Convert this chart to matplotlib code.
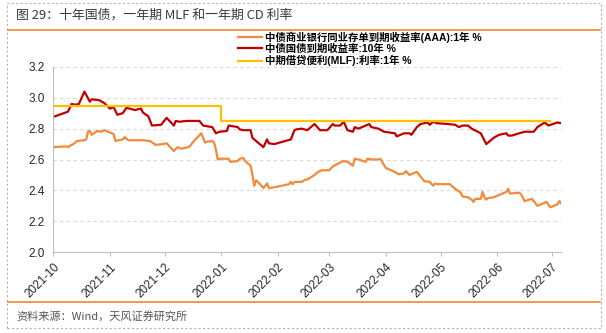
import matplotlib.pyplot as plt
import matplotlib.dates as mdates
import numpy as np
import pandas as pd
from matplotlib.lines import Line2D
from matplotlib.patches import Rectangle

plt.rcParams['font.family'] = ['Liberation Sans', 'Noto Sans CJK SC', 'DejaVu Sans']

# 中债国债到期收益率:10年
gov_dates = ["2021-10-01", "2021-10-09", "2021-10-11", "2021-10-13", "2021-10-15", "2021-10-18",
             "2021-10-21", "2021-10-22", "2021-10-26", "2021-10-29", "2021-11-01", "2021-11-03",
             "2021-11-05", "2021-11-08", "2021-11-10", "2021-11-15", "2021-11-16", "2021-11-18",
             "2021-11-19", "2021-11-22", "2021-11-24", "2021-11-29", "2021-12-02", "2021-12-06",
             "2021-12-07", "2021-12-09", "2021-12-13", "2021-12-15", "2021-12-20", "2021-12-22",
             "2021-12-27", "2021-12-29", "2021-12-31", "2022-01-04", "2022-01-05", "2022-01-10",
             "2022-01-11", "2022-01-13", "2022-01-17", "2022-01-18", "2022-01-21", "2022-01-24",
             "2022-01-26", "2022-01-27", "2022-01-30", "2022-02-08", "2022-02-10", "2022-02-11",
             "2022-02-14", "2022-02-17", "2022-02-21", "2022-02-24", "2022-02-28", "2022-03-03",
             "2022-03-04", "2022-03-07", "2022-03-09", "2022-03-11", "2022-03-14", "2022-03-15",
             "2022-03-17", "2022-03-23", "2022-03-24", "2022-03-28", "2022-03-31", "2022-04-06",
             "2022-04-07", "2022-04-11", "2022-04-14", "2022-04-15", "2022-04-18", "2022-04-20",
             "2022-04-22", "2022-04-24", "2022-04-25", "2022-04-27", "2022-04-29", "2022-05-05",
             "2022-05-09", "2022-05-11", "2022-05-13", "2022-05-16", "2022-05-18", "2022-05-23",
             "2022-05-26", "2022-05-27", "2022-05-30", "2022-06-02", "2022-06-06", "2022-06-07",
             "2022-06-09", "2022-06-13", "2022-06-16", "2022-06-20", "2022-06-21", "2022-06-23",
             "2022-06-27", "2022-06-29", "2022-07-04", "2022-07-06"]
gov_10y = [2.876, 2.91, 2.96, 2.955, 2.96, 3.04,
           2.975, 2.99, 2.985, 2.965, 2.93, 2.94,
           2.89, 2.90, 2.935, 2.92, 2.925, 2.93,
           2.905, 2.88, 2.82, 2.825, 2.87, 2.82,
           2.85, 2.845, 2.85, 2.85, 2.85, 2.82,
           2.81, 2.77, 2.78, 2.785, 2.82, 2.81,
           2.795, 2.79, 2.79, 2.74, 2.71, 2.68,
           2.73, 2.705, 2.70, 2.73, 2.79, 2.795,
           2.80, 2.79, 2.83, 2.79, 2.79, 2.83,
           2.82, 2.82, 2.845, 2.79, 2.78, 2.81,
           2.80, 2.83, 2.81, 2.80, 2.78, 2.77,
           2.75, 2.77, 2.77, 2.76, 2.81, 2.83,
           2.835, 2.84, 2.825, 2.845, 2.835, 2.83,
           2.825, 2.81, 2.82, 2.82, 2.80, 2.77,
           2.70, 2.71, 2.74, 2.76, 2.77, 2.755,
           2.755, 2.77, 2.78, 2.78, 2.78, 2.81,
           2.84, 2.82, 2.84, 2.835]

# 中债商业银行同业存单到期收益率(AAA):1年
cd_dates = ["2021-10-01", "2021-10-08", "2021-10-09", "2021-10-11", "2021-10-12", "2021-10-14",
            "2021-10-18", "2021-10-19", "2021-10-20", "2021-10-21", "2021-10-22", "2021-10-25",
            "2021-10-27", "2021-10-29", "2021-11-03", "2021-11-04", "2021-11-08", "2021-11-09",
            "2021-11-11", "2021-11-15", "2021-11-19", "2021-11-23", "2021-11-26", "2021-11-30",
            "2021-12-02", "2021-12-06", "2021-12-08", "2021-12-10", "2021-12-14", "2021-12-15",
            "2021-12-17", "2021-12-21", "2021-12-23", "2021-12-24", "2021-12-27", "2021-12-28",
            "2021-12-29", "2021-12-30", "2021-12-31", "2022-01-04", "2022-01-05", "2022-01-06",
            "2022-01-10", "2022-01-11", "2022-01-13", "2022-01-14", "2022-01-17", "2022-01-18",
            "2022-01-19", "2022-01-20", "2022-01-21", "2022-01-24", "2022-01-26", "2022-01-27",
            "2022-01-30", "2022-02-07", "2022-02-08", "2022-02-09", "2022-02-10", "2022-02-11",
            "2022-02-14", "2022-02-16", "2022-02-17", "2022-02-21", "2022-02-23", "2022-02-25",
            "2022-03-01", "2022-03-03", "2022-03-07", "2022-03-09", "2022-03-11", "2022-03-14",
            "2022-03-15", "2022-03-17", "2022-03-21", "2022-03-22", "2022-03-24", "2022-03-28",
            "2022-03-29", "2022-04-01", "2022-04-05", "2022-04-08", "2022-04-11", "2022-04-12",
            "2022-04-14", "2022-04-18", "2022-04-20", "2022-04-22", "2022-04-25", "2022-04-27",
            "2022-04-28", "2022-04-29", "2022-05-05", "2022-05-06", "2022-05-09", "2022-05-12",
            "2022-05-13", "2022-05-16", "2022-05-18", "2022-05-19", "2022-05-20", "2022-05-23",
            "2022-05-24", "2022-05-25", "2022-05-26", "2022-05-27", "2022-05-30", "2022-06-01",
            "2022-06-06", "2022-06-07", "2022-06-08", "2022-06-09", "2022-06-13", "2022-06-14",
            "2022-06-16", "2022-06-17", "2022-06-20", "2022-06-23", "2022-06-26", "2022-06-28",
            "2022-06-30", "2022-07-04", "2022-07-05", "2022-07-06"]
cd_1y = [2.68, 2.685, 2.68, 2.695, 2.70, 2.72,
         2.725, 2.73, 2.78, 2.785, 2.76, 2.785,
         2.78, 2.79, 2.765, 2.72, 2.73, 2.745,
         2.725, 2.725, 2.725, 2.72, 2.695, 2.70,
         2.705, 2.655, 2.68, 2.67, 2.68, 2.69,
         2.72, 2.77, 2.71, 2.715, 2.72, 2.71,
         2.665, 2.60, 2.605, 2.605, 2.605, 2.585,
         2.59, 2.605, 2.61, 2.59, 2.56, 2.50,
         2.43, 2.465, 2.455, 2.415, 2.445, 2.415,
         2.42, 2.44, 2.455, 2.44, 2.455, 2.455,
         2.455, 2.47, 2.47, 2.50, 2.52, 2.53,
         2.53, 2.555, 2.58, 2.59, 2.585, 2.56,
         2.605, 2.60, 2.585, 2.605, 2.60, 2.60,
         2.605, 2.545, 2.525, 2.505, 2.51, 2.525,
         2.50, 2.52, 2.49, 2.46, 2.455, 2.43,
         2.445, 2.44, 2.44, 2.44, 2.41, 2.385,
         2.36, 2.355, 2.34, 2.325, 2.345, 2.345,
         2.39, 2.355, 2.34, 2.35, 2.355, 2.365,
         2.39, 2.41, 2.38, 2.38, 2.385, 2.375,
         2.33, 2.335, 2.345, 2.30, 2.315, 2.325,
         2.29, 2.31, 2.33, 2.315]

# 中期借贷便利(MLF):利率:1年
mlf_dates = ["2021-10-01", "2022-01-01", "2022-06-30"]
mlf_1y = [2.95, 2.85, 2.85]

labels = ["中债商业银行同业存单到期收益率(AAA):1年 %",
          "中债国债到期收益率:10年 %",
          "中期借贷便利(MLF):利率:1年 %"]
colors = ["#F28A3C", "#C00000", "#FFC000"]

fig = plt.figure(figsize=(6.06, 3.33), dpi=100)
ax = fig.add_axes([0.088, 0.243, 0.838, 0.556])

ax.plot(pd.to_datetime(cd_dates), cd_1y, color=colors[0], lw=1.6, label=labels[0])
ax.plot(pd.to_datetime(gov_dates), gov_10y, color=colors[1], lw=1.6, label=labels[1])
ax.plot(pd.to_datetime(mlf_dates), mlf_1y, color=colors[2], lw=1.6,
        drawstyle='steps-post', label=labels[2])

ax.set_ylim(2.0, 3.2)
ax.set_yticks(np.arange(2.0, 3.21, 0.2))
ax.yaxis.set_major_formatter(plt.FormatStrFormatter('%.1f'))
ax.set_xlim(pd.Timestamp("2021-10-01"), pd.Timestamp("2022-07-06"))
ax.xaxis.set_major_locator(mdates.MonthLocator())
ax.xaxis.set_major_formatter(mdates.DateFormatter('%Y-%m'))

ax.grid(axis='y', color='#d9d9d9', ls=(0, (3, 3)), lw=0.8)
for s in ['top', 'right']:
    ax.spines[s].set_visible(False)
for s in ['left', 'bottom']:
    ax.spines[s].set_color('#bfbfbf')
ax.tick_params(axis='both', colors='#bfbfbf', labelcolor='#262626', labelsize=8.5, length=3)
ax.tick_params(axis='y', length=0, pad=6)
for t in ax.get_xticklabels():
    t.set_rotation(45)
    t.set_ha('right')
    t.set_rotation_mode('anchor')

leg = ax.legend(loc='upper left', bbox_to_anchor=(0.355, 1.215), frameon=False,
                prop={'family': ['Liberation Sans', 'Noto Sans CJK SC'], 'weight': 'bold', 'size': 7.5},
                handlelength=2.3, handletextpad=0.3, labelspacing=0.1, borderaxespad=0)

# frame decoration
fig.add_artist(Rectangle((7 / 606, 1 - 328 / 333), 594 / 606, 325 / 333, transform=fig.transFigure,
                         fill=False, ec='#b4b4b4', ls=(0, (2, 2)), lw=0.8))
fig.add_artist(Line2D([8 / 606, 600 / 606], [1 - 30 / 333, 1 - 30 / 333], transform=fig.transFigure,
                      color='#ED8A2B', lw=1.2))
fig.add_artist(Line2D([8 / 606, 600 / 606], [1 - 302 / 333, 1 - 302 / 333], transform=fig.transFigure,
                      color='#ED8A2B', lw=1.2))
fig.text(16 / 606, 1 - 15 / 333, "图 29：十年国债，一年期 MLF 和一年期 CD 利率", fontsize=9.3,
         color='#3a3a3a', va='center', ha='left', family=['Noto Sans CJK SC', 'DejaVu Sans'])
fig.text(16 / 606, 1 - 316 / 333, "资料来源：Wind，天风证券研究所", fontsize=8,
         color='#555555', va='center', ha='left', family=['Noto Sans CJK SC', 'DejaVu Sans'])

fig.savefig('out.png', dpi=100)
